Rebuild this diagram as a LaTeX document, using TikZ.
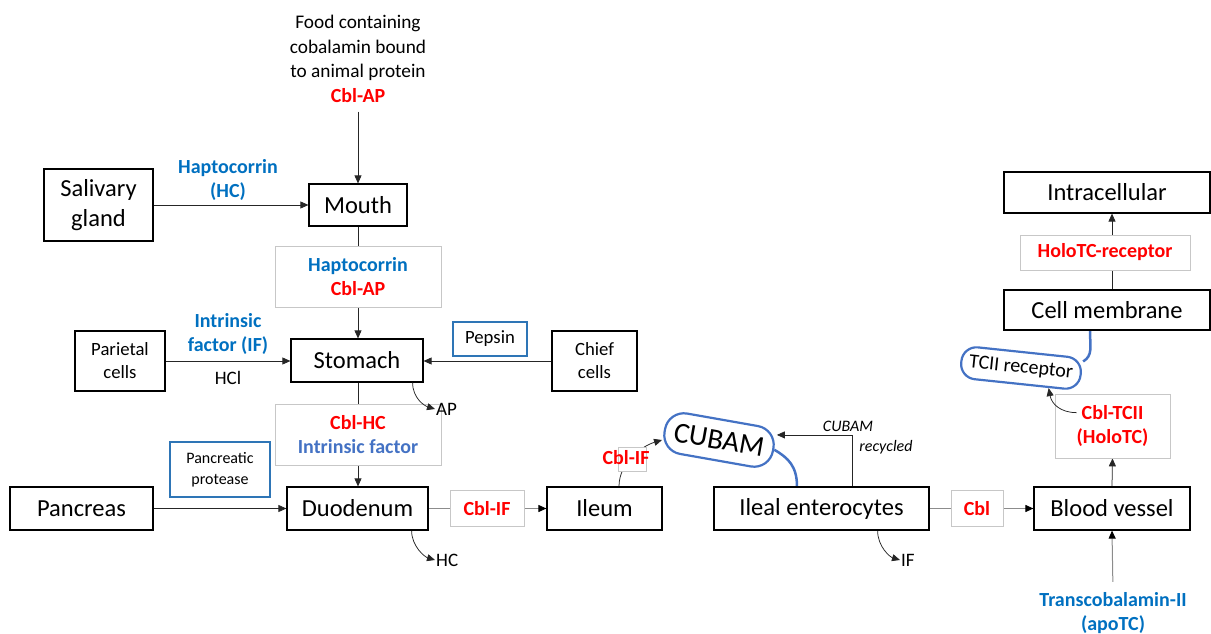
\documentclass[tikz,border=0pt]{standalone}
\usepackage{fontspec}
\setmainfont{Carlito}
\usetikzlibrary{arrows.meta,calc,backgrounds}
\definecolor{lblue}{HTML}{0070C0}
\definecolor{iblue}{HTML}{4472C4}
\definecolor{bblue}{HTML}{2E75B6}
\definecolor{cred}{HTML}{FF0000}
\begin{document}
\begin{tikzpicture}[x=1pt,y=-1pt,
  box/.style={draw, line width=1.2pt, inner sep=0pt, align=center, fill=white, font=\fontsize{24.5}{29.5}\selectfont},
  sbox/.style={box, font=\fontsize{18.7}{23}\selectfont},
  gbox/.style={draw=black!22, line width=0.7pt, fill=white, inner sep=0pt, align=center, font=\fontsize{20}{24.5}\selectfont\bfseries},
  bbox/.style={draw=bblue, line width=1.6pt, fill=white, inner sep=0pt, align=center, font=\fontsize{16}{21}\selectfont},
  lbl/.style={align=center, inner sep=0pt, font=\fontsize{20}{24.5}\selectfont\bfseries},
  txt/.style={align=center, inner sep=1pt, font=\fontsize{19}{23}\selectfont},
  itx/.style={inner sep=0pt, font=\fontsize{16}{20}\selectfont\itshape},
  capsule/.style={draw=iblue, line width=2.2pt, fill=white, inner sep=0pt, align=center},
  arr/.style={-{Triangle[length=8pt,width=7pt]}, line width=0.75pt, draw=black!85},
  con/.style={line width=0.75pt, draw=black!85},
  gcon/.style={line width=1pt, draw=black!45},
  garr/.style={gcon, -{Triangle[length=8pt,width=7pt,color=black]}},
  blueline/.style={draw=iblue, line width=2.5pt}
]
\useasboundingbox (0,0) rectangle (1211,634);

% nodes
\node[txt, inner sep=0pt, font=\fontsize{19.3}{24.5}\selectfont] (food) at (358,59) {Food containing\\cobalamin bound\\to animal protein\\{\fontsize{20}{24.5}\selectfont\bfseries\color{cred}Cbl-AP}};
\node[box, minimum width=109pt, minimum height=72pt] (sal) at (98.5,205) {Salivary\\gland};
\node[box, minimum width=98pt, minimum height=42pt] (mouth) at (358,205) {Mouth};
\node[lbl, text=lblue] (hclab) at (228,180) {Haptocorrin\\(HC)};
\node[gbox, minimum width=166pt, minimum height=61pt] (hcbox) at (358,276.5) {\textcolor{lblue}{Haptocorrin}\\\textcolor{cred}{Cbl-AP}};
\node[box, minimum width=132pt, minimum height=43pt] (stomach) at (357,360.5) {Stomach};
\node[sbox, minimum width=90pt, minimum height=60pt] (parietal) at (120,361) {Parietal\\cells};
\node[lbl, text=lblue] (iflab) at (228,334) {Intrinsic\\factor (IF)};
\node[txt] (hcl) at (228,378) {HCl};
\node[bbox, minimum width=74pt, minimum height=34pt, font=\fontsize{18.7}{23}\selectfont] (pepsin) at (490,339) {Pepsin};
\node[sbox, minimum width=85pt, minimum height=60pt] (chief) at (594.5,361) {Chief\\cells};
\node[gbox, minimum width=166pt, minimum height=61pt] (cblhc) at (358,434.5) {\textcolor{cred}{Cbl-HC}\\\textcolor{iblue}{Intrinsic factor}};
\node[txt, anchor=west] (ap) at (435,409) {AP};
\node[bbox, minimum width=100pt, minimum height=55pt] (protease) at (220,469.5) {Pancreatic\\protease};
\node[box, minimum width=143pt, minimum height=43pt] (pancreas) at (81.5,508.5) {Pancreas};
\node[box, minimum width=141pt, minimum height=43pt] (duo) at (357.5,508.5) {Duodenum};
\node[txt, anchor=west] (hc) at (435,560) {HC};
\node[gbox, minimum width=74pt, minimum height=36pt, text=cred] (cblif) at (487,508.5) {Cbl-IF};
\node[box, minimum width=115pt, minimum height=43pt] (ileum) at (604.5,508.5) {Ileum};
\node[gbox, minimum width=28pt, minimum height=24pt] (cblifb) at (632,459) {};
\node[lbl, text=cred] (cblif2) at (626,458) {Cbl-IF};
\node[capsule, rotate=-10, minimum width=110pt, minimum height=41pt, rounded corners=19pt, font=\fontsize{29}{33}\selectfont] (cubam) at (719,440) {CUBAM};
\node[box, minimum width=215pt, minimum height=43pt] (ileal) at (821.5,508.5) {Ileal enterocytes};
\node[itx] (rc1) at (848,426) {CUBAM};
\node[itx] (rc2) at (886,447) {recycled};
\coordinate (rcx) at (852,0);
\node[txt, anchor=west] (if) at (900,560) {IF};
\node[gbox, minimum width=52pt, minimum height=36pt, text=cred] (cbl) at (977,508.5) {Cbl};
\node[box, minimum width=156pt, minimum height=43pt] (blood) at (1112,508.5) {Blood vessel};
\node[lbl, text=lblue] (apo) at (1113,613) {Transcobalamin-II\\(apoTC)};
\node[gbox, minimum width=115pt, minimum height=64pt, text=cred] (tc) at (1112.5,426) {Cbl-TCII\\(HoloTC)};
\node[capsule, rotate=-6, minimum width=120pt, minimum height=32pt, rounded corners=15pt, font=\fontsize{20}{24}\selectfont] (tcii) at (1021,368) {TCII receptor};
\node[box, minimum width=206pt, minimum height=40pt] (cellmem) at (1107,310) {Cell membrane};
\node[gbox, minimum width=170pt, minimum height=35pt, text=cred] (holorec) at (1105,252.5) {HoloTC-receptor};
\node[box, minimum width=206pt, minimum height=41pt] (intra) at (1107,192.5) {Intracellular};

% connectors drawn over boxes
\draw[arr] ($(stomach.south east)+(-11,0)$) .. controls +(0,16) and +(-10,-3) .. (ap.west);
\draw[arr] ($(tc.north west)+(22,19)$) .. controls +(-16,0) and +(3,16) .. (tcii.-30);

% connectors
\begin{scope}[on background layer]
\draw[arr, shorten <=9pt] (food.south) -- (mouth.north);
\draw[arr] (sal.east) -- (mouth.west);
\draw[con] (mouth.south) -- (hcbox.north);
\draw[arr] (hcbox.south) -- (stomach.north -| hcbox.south);
\draw[arr] (parietal.east) -- (parietal.east -| stomach.west);
\draw[arr] (chief.west) -- (chief.west -| stomach.east);
\draw[con] (stomach.south -| cblhc.north) -- (cblhc.north);
\draw[arr] (cblhc.south) -- (duo.north -| cblhc.south);
\draw[arr] (pancreas.east) -- (duo.west);
\draw[arr] ($(duo.south east)+(-17,0)$) .. controls +(0,16) and +(-10,-3) .. (hc.west);
\draw[gcon] (duo.east) -- (cblif.west);
\draw[garr] (cblif.east) -- (ileum.west);
\draw[arr] ($(ileum.north)+(14.5,0)$) .. controls +(0,-24) and +(-20,6) .. (cubam.190);
\draw[blueline] (cubam.east) .. controls +(14,8) and +(0,-20) .. ($(ileal.north)+(-24.5,0)$);
\draw[arr] (ileal.north -| rcx) |- (cubam.15);
\draw[arr] ($(ileal.south east)+(-52,0)$) .. controls +(0,16) and +(-10,-3) .. (if.west);
\draw[gcon] (ileal.east) -- (cbl.west);
\draw[garr] (cbl.east) -- (blood.west);
\draw[garr, shorten <=10pt] (apo.north) -- (blood.south);
\draw[arr] (blood.north) -- (tc.south);
\draw[blueline] (tcii.12) .. controls +(10,-6) and +(0,16) .. ($(cellmem.south)+(-17,0)$);
\draw[con] (cellmem.north -| blood.north) -- (holorec.south -| blood.north);
\draw[arr] (holorec.north -| blood.north) -- (intra.south -| blood.north);
\end{scope}
\end{tikzpicture}
\end{document}
